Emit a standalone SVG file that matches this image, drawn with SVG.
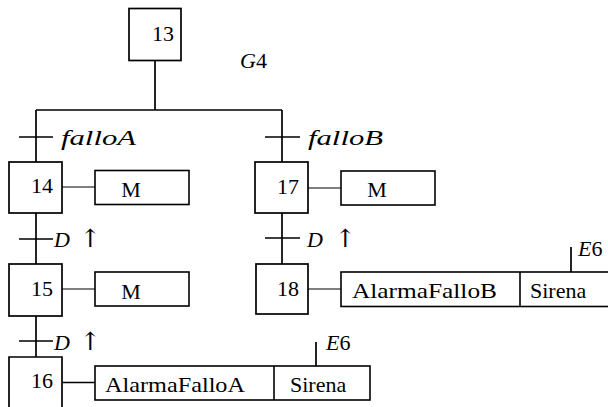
<svg xmlns="http://www.w3.org/2000/svg" width="608" height="407" viewBox="0 0 608 407">
<style>
.bg{fill:#fff}
.step{fill:#fff;stroke:#000;stroke-width:1.7}
.act{fill:#fff;stroke:#000;stroke-width:1.6}
.ln{fill:none;stroke:#000;stroke-width:1.7}
.thin{fill:none;stroke:#000;stroke-width:1.1}
.tk{fill:none;stroke:#000;stroke-width:1.3}
text{font-family:'Liberation Serif','Times New Roman',serif;font-size:22px;fill:#000}
.i{font-style:italic}
.ar{font-family:'DejaVu Serif',serif;font-style:normal;font-size:25px;fill:#000}
</style>
<rect class="bg" x="0" y="0" width="608" height="407"/>
<g id="connectors">
<path class="ln" d="M155,60.5 V110 M36,110 H282 M36,110 V162 M282,110 V162 M36,213 V264 M36,316 V357 M282,213 V264"/>
<path class="tk" d="M19,137 H53 M265,137 H300 M19,239 H53 M19,341 H53 M265,238 H300"/>
<path class="thin" d="M62,187 H95 M62,289 H95 M308,188 H341 M308,289 H341"/>
<path class="ln" d="M62,382.5 H95"/>
<path class="ln" d="M316,342 V366 M571,247 V272"/>
</g>
<g id="step13"><rect class="step" x="129" y="8.5" width="52" height="52"/><text x="174" y="40.5" text-anchor="end">13</text></g>
<g id="label-G4"><text class="i" x="240" y="68">G<tspan font-style="normal">4</tspan></text></g>
<g id="t-falloA"><text class="i" x="61" y="145" textLength="75" lengthAdjust="spacingAndGlyphs">falloA</text></g>
<g id="t-falloB"><text class="i" x="308" y="145" textLength="75" lengthAdjust="spacingAndGlyphs">falloB</text></g>
<g id="step14"><rect class="step" x="9" y="162" width="53" height="51"/><text x="53" y="193" text-anchor="end">14</text></g>
<g id="act14"><rect class="act" x="95" y="170.5" width="94" height="34"/><text x="131" y="197" text-anchor="middle">M</text></g>
<g id="step17"><rect class="step" x="255" y="162" width="53" height="51"/><text x="299" y="194" text-anchor="end">17</text></g>
<g id="act17"><rect class="act" x="341" y="171" width="94" height="34"/><text x="377" y="197" text-anchor="middle">M</text></g>
<g id="t-D1"><text class="i" x="54" y="247">D</text><text class="ar" x="80" y="247">↑</text></g>
<g id="t-D2"><text class="i" x="307" y="247">D</text><text class="ar" x="335" y="247">↑</text></g>
<g id="step15"><rect class="step" x="9" y="264" width="53" height="52"/><text x="53" y="296" text-anchor="end">15</text></g>
<g id="act15"><rect class="act" x="95" y="272" width="94" height="34"/><text x="131" y="299" text-anchor="middle">M</text></g>
<g id="step18"><rect class="step" x="256" y="264" width="52" height="50"/><text x="299" y="296" text-anchor="end">18</text></g>
<g id="act18"><rect class="act" x="341" y="272" width="280" height="34.5"/><line class="act" x1="520" y1="272" x2="520" y2="306.5"/><text x="352" y="298" textLength="145" lengthAdjust="spacingAndGlyphs">AlarmaFalloB</text><text x="530" y="298">Sirena</text></g>
<g id="label-E6b"><text class="i" x="578" y="256">E<tspan font-style="normal">6</tspan></text></g>
<g id="t-D3"><text class="i" x="54" y="350">D</text><text class="ar" x="80" y="350">↑</text></g>
<g id="step16"><path class="step" d="M9,410 V357 H62 V410"/><text x="53" y="388" text-anchor="end">16</text></g>
<g id="act16"><rect class="act" x="95" y="366" width="275" height="34"/><line class="act" x1="274" y1="366" x2="274" y2="400"/><text x="105" y="392" textLength="140" lengthAdjust="spacingAndGlyphs">AlarmaFalloA</text><text x="290" y="392">Sirena</text></g>
<g id="label-E6a"><text class="i" x="326" y="350">E<tspan font-style="normal">6</tspan></text></g>
</svg>
